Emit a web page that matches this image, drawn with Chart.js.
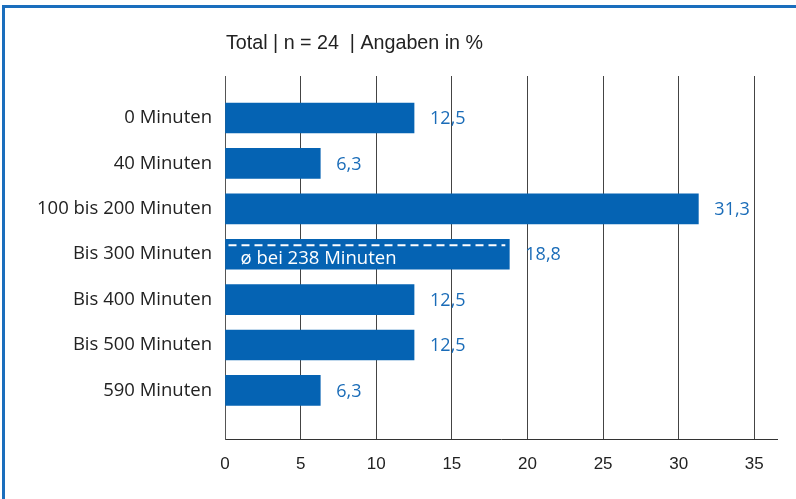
<!DOCTYPE html>
<html>
<head>
<meta charset="utf-8">
<script src="https://cdn.jsdelivr.net/npm/chart.js@4.4.1/dist/chart.umd.min.js"></script>
<style>
  html, body { margin: 0; padding: 0; background: #fff; }
  #wrap { width: 796px; height: 499px; }
</style>
</head>
<body>
<div id="wrap"><canvas id="c" width="796" height="499"></canvas></div>
<script>
// Verweildauer-Kategorien und Anteile in %
const categories = ['0 Minuten', '40 Minuten', '100 bis 200 Minuten', 'Bis 300 Minuten', 'Bis 400 Minuten', 'Bis 500 Minuten', '590 Minuten'];
const shares = [12.5, 6.3, 31.3, 18.8, 12.5, 12.5, 6.3];
const xTicks = [0, 5, 10, 15, 20, 25, 30, 35];
const titleText = 'Total | n = 24  | Angaben in %';
const averageText = 'ø bei 238 Minuten';
const averageIndex = 3;

const BLUE = '#0563b3';
const LABEL_BLUE = '#1a6cb8';
const TEXT = '#222';
const MAIN_FONT = '"Open Sans", "DejaVu Sans", sans-serif';
const NARROW_FONT = '"Liberation Sans Narrow", "Liberation Sans", Arial, sans-serif';

const fmt = v => v.toFixed(1).replace('.', ',');

// Rahmen, Titel, Durchschnittsmarke und Wertelabels
const decorations = {
  id: 'decorations',
  beforeDraw(chart) {
    const ctx = chart.ctx;
    ctx.save();
    ctx.fillStyle = '#fff';
    ctx.fillRect(0, 0, chart.width, chart.height);
    ctx.fillStyle = '#1a6ebd';
    ctx.fillRect(2, 5, chart.width - 2, 3);
    ctx.fillRect(2, 5, 3, chart.height - 5);
    ctx.restore();
  },
  afterDatasetsDraw(chart) {
    const ctx = chart.ctx;
    const area = chart.chartArea;
    const meta = chart.getDatasetMeta(0);
    ctx.save();
    // Titel
    ctx.fillStyle = TEXT;
    ctx.font = '19.7px ' + NARROW_FONT;
    ctx.textAlign = 'left';
    ctx.textBaseline = 'alphabetic';
    ctx.fillText(titleText, area.left + 1, 49);

    // Wertelabels
    ctx.fillStyle = LABEL_BLUE;
    ctx.font = '18px ' + MAIN_FONT;
    ctx.textBaseline = 'middle';
    meta.data.forEach((bar, i) => {
      ctx.fillText(fmt(shares[i]), bar.x + 16, bar.y + 1);
    });

    // Durchschnittsmarke im Balken
    const b = meta.data[averageIndex];
    const top = b.y - b.height / 2;
    ctx.strokeStyle = '#fff';
    ctx.lineWidth = 2;
    ctx.setLineDash([8, 5]);
    ctx.beginPath();
    ctx.moveTo(b.base + 3, top + 6);
    ctx.lineTo(b.x - 4, top + 6);
    ctx.stroke();
    ctx.setLineDash([]);
    ctx.fillStyle = '#fff';
    ctx.font = '18.5px ' + MAIN_FONT;
    ctx.textBaseline = 'alphabetic';
    ctx.fillText(averageText, b.base + 15, top + 25);
    ctx.restore();
  }
};

new Chart(document.getElementById('c'), {
  type: 'bar',
  data: {
    datasets: [{
      data: shares.map((v, i) => ({ x: v, y: i })),
      backgroundColor: BLUE,
      borderWidth: 0,
      barThickness: 30
    }]
  },
  options: {
    indexAxis: 'y',
    responsive: false,
    animation: false,
    devicePixelRatio: 1,
    layout: { padding: { top: 76, right: 19, bottom: 0, left: 0 } },
    plugins: { legend: { display: false }, tooltip: { enabled: false }, title: { display: false } },
    scales: {
      x: {
        type: 'linear',
        min: 0,
        max: 36.5,
        afterBuildTicks: s => { s.ticks = xTicks.map(v => ({ value: v })); },
        afterFit: s => { s.height = 60; },
        grid: { color: '#444', lineWidth: 1, drawTicks: false },
        border: { display: true, color: '#333', width: 1 },
        ticks: {
          color: TEXT,
          padding: 15,
          font: { family: NARROW_FONT, size: 17 },
          callback: v => String(v)
        }
      },
      y: {
        type: 'linear',
        reverse: true,
        offset: false,
        min: -0.925,
        max: 7.07,
        afterBuildTicks: s => { s.ticks = categories.map((_, i) => ({ value: i })); },
        afterFit: s => { s.width = 225; },
        grid: { display: false, drawTicks: false, offset: false },
        border: { display: true, color: '#555', width: 1 },
        ticks: {
          color: TEXT,
          padding: 13,
          font: { family: MAIN_FONT, size: 18.5 },
          callback: v => categories[v] ?? ''
        }
      }
    }
  },
  plugins: [decorations]
});
</script>
</body>
</html>
